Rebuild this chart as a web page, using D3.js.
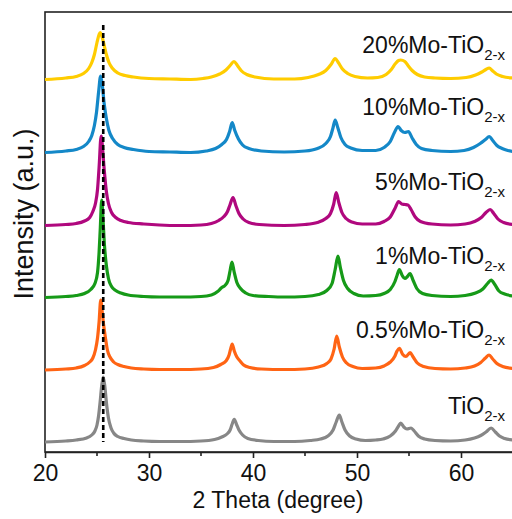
<!DOCTYPE html>
<html>
<head>
<meta charset="utf-8">
<script src="https://cdn.jsdelivr.net/npm/d3@7"></script>
<style>
  html, body { margin: 0; padding: 0; background: #fff; }
  svg { display: block; font-family: Arial, "Liberation Sans", sans-serif; }
</style>
</head>
<body>
<svg id="chart" width="512" height="519"></svg>
<script>
// XRD patterns, 2θ (degree) vs intensity above each pattern's own baseline (a.u.)
const patternTiO2 = [[20,0],[22,1],[23,2],[24,4],[24.5,7],[24.8,11],[25,17],[25.15,26],[25.3,40],[25.45,56],[25.6,65],[25.75,56],[25.9,40],[26.1,24],[26.35,14],[26.6,9],[27,5.5],[27.6,3.5],[28.3,2],[29.5,1],[31,0.5],[33,0.5],[35,1],[36.3,2.5],[37,5],[37.5,8],[37.8,12],[38,18],[38.2,22.7],[38.4,18],[38.65,12],[39,7],[39.5,3.5],[40.5,1.5],[42,0.5],[44,0.5],[45.5,1.5],[46.5,3],[47.2,6],[47.7,12],[48,20],[48.3,27],[48.55,20],[48.85,12],[49.3,6],[49.9,3],[50.8,1.5],[51.8,2],[52.5,3],[53.2,6],[53.7,11],[54,16],[54.2,19],[54.5,15],[54.8,13],[55.2,14],[55.5,11],[55.9,6],[56.5,3],[57.5,1.5],[59,1],[60.4,2],[61.3,4],[61.9,6.5],[62.4,10],[62.9,14],[63.3,10],[63.7,6],[64.2,3.5],[65,2]];
const patternMo05 = [[20,0],[22,1],[23,2],[23.8,4.5],[24.3,8],[24.6,12],[24.85,20],[25.05,32],[25.2,48],[25.36,70],[25.5,58],[25.65,44],[25.8,33],[26,20],[26.25,13],[26.6,8],[27,5.5],[27.6,3.5],[28.3,2],[29.5,1],[31,0.5],[33,0.5],[35,1],[36.2,2.5],[36.9,5.5],[37.4,9],[37.7,15],[37.85,21],[38,26],[38.2,19],[38.45,13],[38.75,9],[39.1,5],[39.7,2.5],[40.8,1],[43,0.5],[45,1],[46.3,3],[47.1,6.5],[47.5,11],[47.8,21],[48.05,34],[48.3,23],[48.6,13],[49,7],[49.6,3.5],[50.5,1.5],[51.8,2],[52.6,4],[53.2,8],[53.65,14],[53.85,19],[54.07,21.7],[54.4,15.5],[54.7,13.5],[55.1,17.3],[55.4,13],[55.8,7],[56.4,3.5],[57.5,1.5],[59,1],[60.4,2],[61.3,4],[61.9,7.5],[62.35,12],[62.7,15],[63.05,11],[63.45,6.5],[64,3.5],[65,1.5]];
const patternMo1 = [[20,0],[22,1],[23,2],[23.8,4],[24.4,8],[24.8,14],[25.05,25],[25.2,45],[25.32,70],[25.45,97.5],[25.58,78],[25.72,52],[25.9,32],[26.1,19],[26.4,11],[26.8,7],[27.3,4.5],[28,2.5],[29.5,1],[31,0.5],[33,0.5],[35,1],[36,2.5],[36.6,6],[37,10],[37.3,12],[37.6,17],[37.8,27],[37.98,35.5],[38.18,26],[38.45,15],[38.8,9],[39.3,4.5],[40,2],[41.5,1],[43,0.5],[45,1],[46.3,3],[47.1,7],[47.6,14],[47.9,28],[48.17,41.5],[48.4,30],[48.7,17],[49.1,9],[49.7,4],[50.6,1.5],[51.8,2],[52.6,4],[53.2,8],[53.65,16],[53.85,22],[54.07,28],[54.35,22],[54.6,19],[54.85,21],[55.1,24],[55.4,17],[55.75,9],[56.3,4],[57.2,2],[59,1],[60.4,2],[61.4,4.5],[62.1,8.5],[62.55,14],[62.9,17.5],[63.25,13],[63.65,6.5],[64.2,3.5],[65,1.5]];
const patternMo5 = [[20,0],[22,1],[23,2],[23.8,4.5],[24.3,8],[24.6,14],[24.85,22],[25.05,36],[25.2,58],[25.4,89.5],[25.55,75],[25.7,55],[25.9,34],[26.1,22],[26.4,13],[26.8,8],[27.3,5],[28,3],[29.5,1.5],[31,0.5],[33,0],[35,0.5],[36,2],[36.7,5],[37.2,9],[37.55,14],[37.8,21],[38.08,28],[38.35,20],[38.65,12],[39.05,6.5],[39.6,3],[40.6,1],[43,0],[45,1],[46.2,3],[47,7],[47.45,12],[47.75,21],[48,33],[48.25,23],[48.55,13],[48.95,7],[49.5,3.5],[50.5,1.5],[51.8,1.5],[52.6,4],[53.2,8.5],[53.65,17],[54,24],[54.3,21.5],[54.6,21],[54.9,20.5],[55.2,16],[55.6,8.5],[56.1,4],[57.2,1.5],[59,0.5],[60.4,1.5],[61.3,4],[61.95,8],[62.4,13],[62.8,16],[63.15,12],[63.55,6.5],[64.1,3],[65,1]];
const patternMo10 = [[20,0],[22,1.5],[23,3],[23.7,6],[24.2,11],[24.5,17],[24.75,27],[24.95,40],[25.15,60],[25.35,76.5],[25.5,68],[25.7,48],[25.9,34],[26.15,22],[26.5,14],[27,8],[27.6,5],[28.5,3],[30,1],[32,0.5],[34,0],[35.5,1.5],[36.4,4],[37,8],[37.45,13],[37.75,21],[38,30],[38.25,22],[38.6,13.5],[39,7.5],[39.6,4],[40.8,1.5],[43,0.5],[45,1.5],[46.2,4],[47,9],[47.45,16],[47.7,25],[47.9,32.5],[48.15,25],[48.45,15],[48.85,8],[49.4,4.5],[50.5,2],[51.8,2],[52.6,5],[53.2,11],[53.6,20],[53.95,26],[54.25,22],[54.6,20],[54.95,21],[55.3,14.5],[55.7,8],[56.2,4],[57.2,2],[59,1],[60.3,2],[61.2,5],[61.85,9],[62.35,13],[62.72,16],[63.05,12],[63.45,7],[63.95,4],[64.5,2],[65,1]];
const patternMo20 = [[20,0],[22,1.5],[23,3],[23.7,6],[24.2,11],[24.5,17],[24.75,25],[25,37],[25.2,45],[25.3,47],[25.45,44],[25.65,36],[25.9,25],[26.15,17],[26.5,11],[27,6.5],[27.7,4],[28.5,2.5],[30,1],[32,0.5],[34,0],[35.2,1],[36,2.5],[36.8,5.5],[37.4,9.5],[37.8,14],[38.17,18],[38.5,14],[38.9,8.5],[39.4,5],[40.2,2.5],[42,0.5],[44,0.5],[45.3,2],[46.3,5],[47,9],[47.5,15],[47.9,21],[48.2,17],[48.6,10.5],[49.1,6],[49.8,3],[51,1.5],[52,2],[52.8,5],[53.3,10],[53.7,16],[54,19],[54.2,19.5],[54.6,18],[54.9,14],[55.3,9],[55.8,5],[56.5,2.5],[57.5,1.5],[59,1],[60.5,2],[61.4,4.5],[62,7.5],[62.4,10],[62.72,11.5],[63,9],[63.4,5.5],[64,3],[65,1.5]];

// Samples from the top of the stack down, with the vertical offset of each pattern (a.u.)
const sampleNames = ["20%Mo-TiO", "10%Mo-TiO", "5%Mo-TiO", "1%Mo-TiO", "0.5%Mo-TiO", "TiO"];
const sampleSubscript = "2-x";
const patterns = [patternMo20, patternMo10, patternMo5, patternMo1, patternMo05, patternTiO2];
const offsets = [372.5, 299.5, 226.5, 154.5, 82, 10];

// Reference position of the anatase (101) reflection
const refLine = 25.6;

const xTicks = [20, 30, 40, 50, 60];
const xMinorTicks = [25, 35, 45, 55, 65];

// Styling
const colors = ["#FFCC00", "#1488C8", "#B0087E", "#169A18", "#FF6414", "#878787"];
const labelBaselines = [53, 115, 189.5, 264, 337.5, 414];

const svg = d3.select("#chart");
const margin = { left: 45, top: 12, right: 513, bottom: 452 };

const x = d3.scaleLinear().domain([20, 65]).range([margin.left, margin.right]);
const y = d3.scaleLinear().domain([0, 440]).range([margin.bottom, margin.top]);

// Frame
svg.append("rect")
  .attr("x", margin.left).attr("y", margin.top)
  .attr("width", margin.right - margin.left).attr("height", margin.bottom - margin.top)
  .attr("fill", "none").attr("stroke", "#222").attr("stroke-width", 1.6);

// Patterns: drawn from top to bottom so lower patterns' peaks sit above higher baselines
const line = d3.line().curve(d3.curveMonotoneX);
patterns.forEach((pts, i) => {
  line.x(d => x(d[0])).y(d => y(d[1] + offsets[i]));
  svg.append("path")
    .attr("d", line(pts))
    .attr("fill", "none")
    .attr("stroke", colors[i])
    .attr("stroke-width", 3.2)
    .attr("stroke-linejoin", "round");
});

// Sample labels
sampleNames.forEach((name, i) => {
  const t = svg.append("text")
    .attr("x", 505).attr("y", labelBaselines[i])
    .attr("text-anchor", "end")
    .attr("font-size", 23)
    .attr("fill", "#111");
  t.append("tspan").text(name);
  t.append("tspan").attr("font-size", 15).attr("dy", 7).text(sampleSubscript);
});

// Dashed reference line
svg.append("line")
  .attr("x1", x(refLine)).attr("x2", x(refLine))
  .attr("y1", 25).attr("y2", 442)
  .attr("stroke", "#000").attr("stroke-width", 2.6)
  .attr("stroke-dasharray", "5,3");

// Bottom axis
const xAxis = d3.axisBottom(x).tickValues(xTicks).tickSize(6).tickSizeOuter(0).tickPadding(7).tickFormat(d3.format("d"));
const gx = svg.append("g").attr("transform", `translate(0,${margin.bottom})`).call(xAxis);
gx.select(".domain").attr("stroke", "#222").attr("stroke-width", 1.6);
gx.selectAll(".tick line").attr("stroke", "#222").attr("stroke-width", 1.6);
gx.selectAll(".tick text").attr("font-size", 23).attr("fill", "#111").attr("font-family", "Arial, 'Liberation Sans', sans-serif");
gx.selectAll(".minor").data(xMinorTicks).enter().append("line")
  .attr("x1", d => x(d)).attr("x2", d => x(d)).attr("y1", 0).attr("y2", 4)
  .attr("stroke", "#222").attr("stroke-width", 1.6);

// Axis titles
svg.append("text")
  .attr("x", 278).attr("y", 508)
  .attr("text-anchor", "middle").attr("font-size", 23).attr("fill", "#111")
  .text("2 Theta (degree)");
svg.append("text")
  .attr("transform", "translate(33,214) rotate(-90)")
  .attr("text-anchor", "middle").attr("font-size", 27).attr("fill", "#111")
  .text("Intensity (a.u.)");
</script>
</body>
</html>
